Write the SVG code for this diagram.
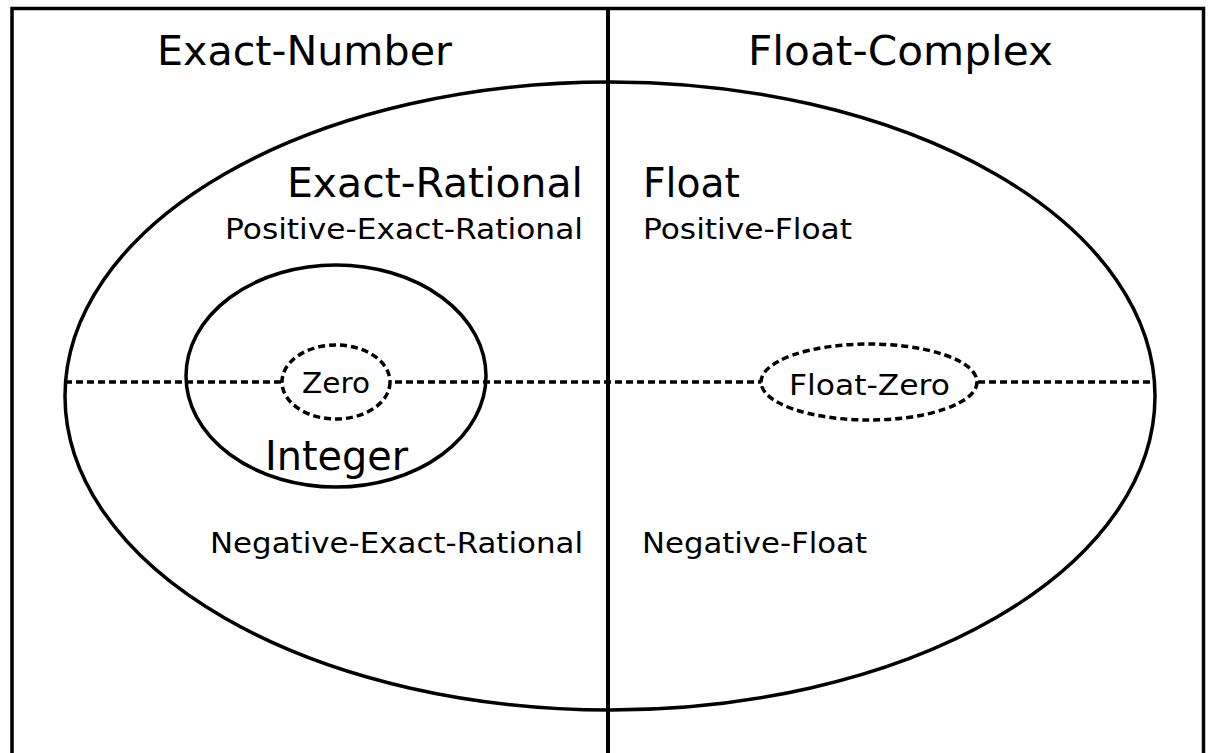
<svg xmlns="http://www.w3.org/2000/svg" width="1213" height="753" viewBox="0 0 1213 753">
<style>
.s{fill:none;stroke:#000;stroke-width:3.5}
.d{fill:none;stroke:#000;stroke-width:3.5;stroke-dasharray:7 4}
text{font-family:"DejaVu Sans","Liberation Sans",sans-serif;fill:#000}
.big{font-size:40px}
.sm{font-size:29px}
</style>
<rect width="1213" height="753" fill="#fff"/>
<g id="exact-number">
<path class="s" d="M12 760 V8.5 H608"/>
<text class="big" x="157" y="65" textLength="295" lengthAdjust="spacingAndGlyphs">Exact-Number</text>
</g>
<g id="float-complex">
<path class="s" d="M608 8.5 H1203.5 V760"/>
<text class="big" x="748" y="65" textLength="305" lengthAdjust="spacingAndGlyphs">Float-Complex</text>
</g>
<g id="connectors">
<line x1="608" y1="8" x2="608" y2="760" stroke="#000" stroke-width="4"/>
<line class="d" x1="65" y1="382" x2="1155" y2="382"/>
</g>
<g id="real">
<ellipse class="s" cx="610" cy="396" rx="545" ry="314"/>
</g>
<g id="exact-rational">
<text class="big" x="583" y="197" text-anchor="end" textLength="296" lengthAdjust="spacingAndGlyphs">Exact-Rational</text>
<text class="sm" x="583" y="239" text-anchor="end" textLength="358" lengthAdjust="spacingAndGlyphs">Positive-Exact-Rational</text>
<text class="sm" x="583" y="553" text-anchor="end" textLength="373" lengthAdjust="spacingAndGlyphs">Negative-Exact-Rational</text>
</g>
<g id="float">
<text class="big" x="643" y="197" textLength="97" lengthAdjust="spacingAndGlyphs">Float</text>
<text class="sm" x="643" y="239" textLength="209" lengthAdjust="spacingAndGlyphs">Positive-Float</text>
<text class="sm" x="642" y="553" textLength="225" lengthAdjust="spacingAndGlyphs">Negative-Float</text>
</g>
<g id="integer">
<ellipse class="s" cx="336" cy="376" rx="150" ry="111"/>
<text class="big" x="265" y="470" textLength="143" lengthAdjust="spacingAndGlyphs">Integer</text>
</g>
<g id="zero">
<ellipse cx="336" cy="382" rx="54" ry="37" fill="#fff"/>
<ellipse class="d" cx="336" cy="382" rx="54" ry="37"/>
<text class="sm" x="302" y="393" textLength="68" lengthAdjust="spacingAndGlyphs">Zero</text>
</g>
<g id="float-zero">
<ellipse cx="869" cy="382" rx="108" ry="38" fill="#fff"/>
<ellipse class="d" cx="869" cy="382" rx="108" ry="38"/>
<text class="sm" x="789" y="395" textLength="161" lengthAdjust="spacingAndGlyphs">Float-Zero</text>
</g>
</svg>
